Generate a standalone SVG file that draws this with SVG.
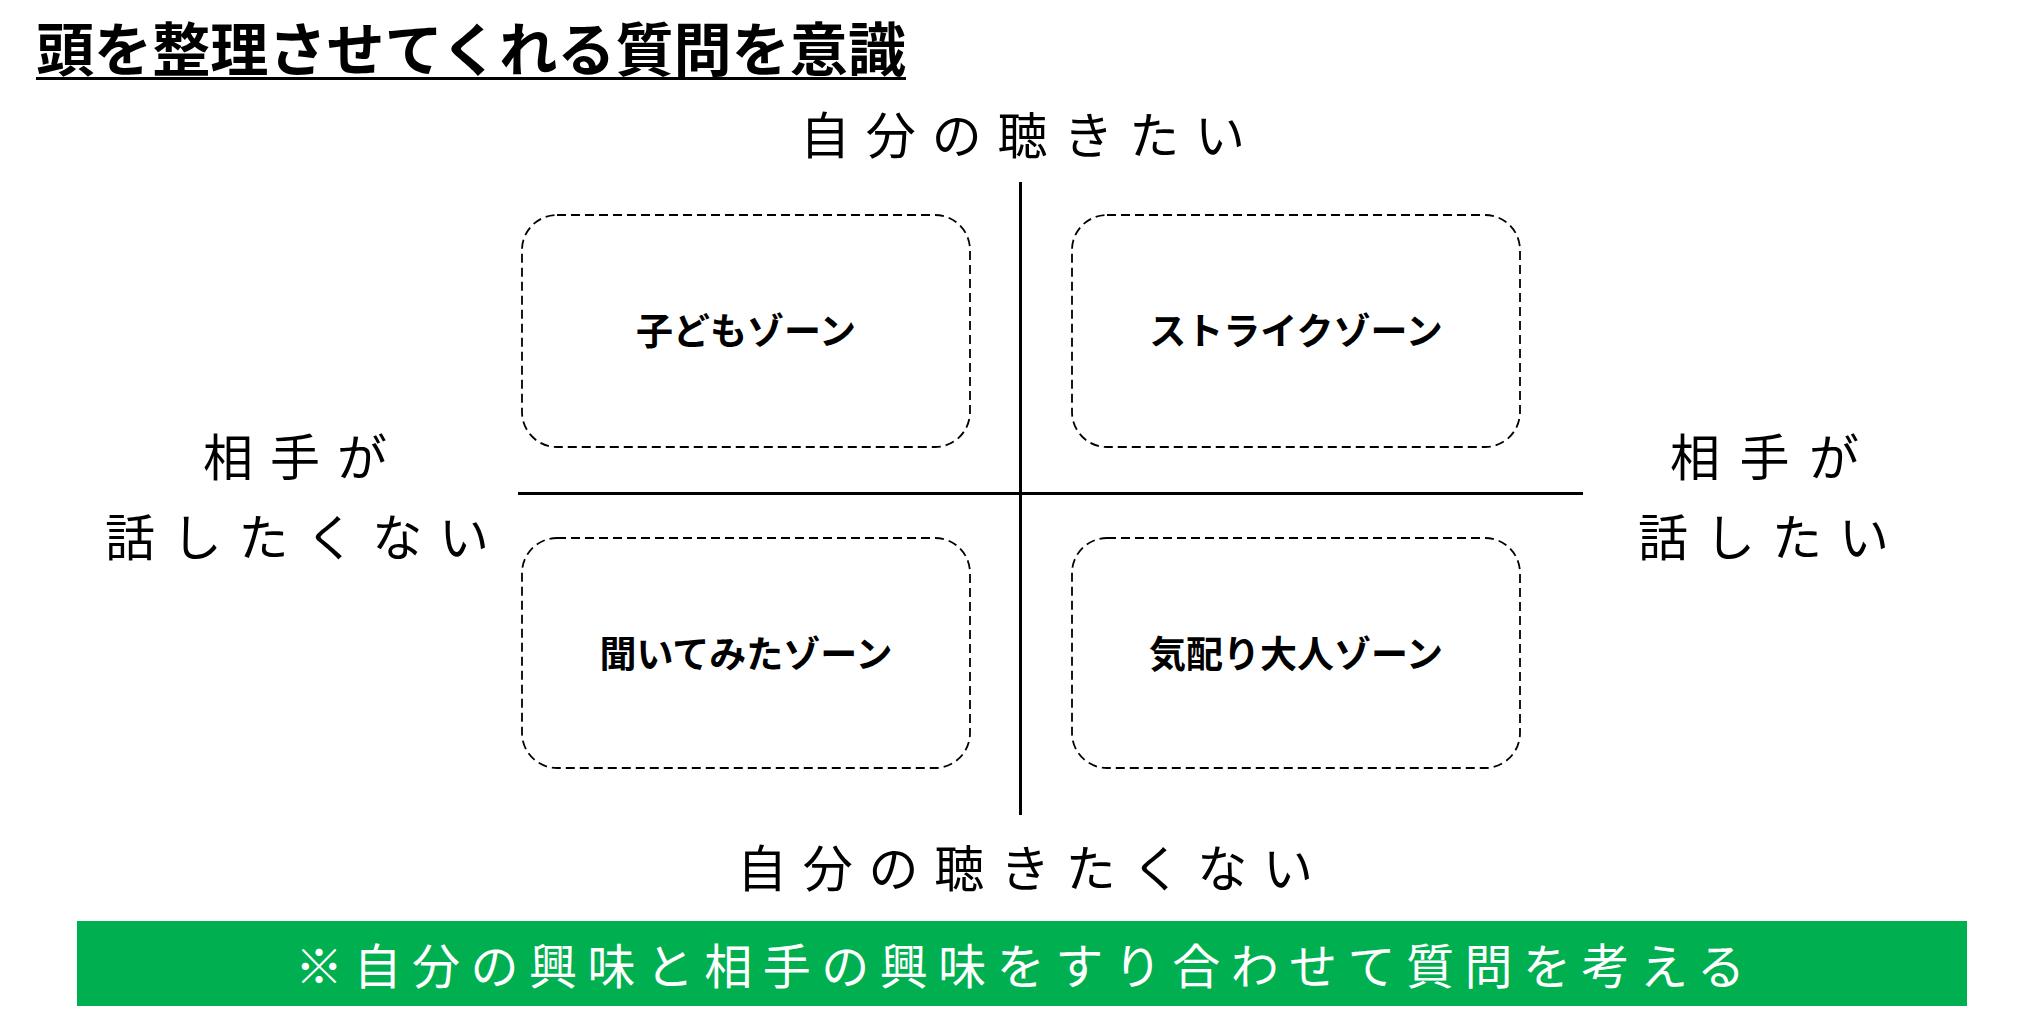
<svg xmlns="http://www.w3.org/2000/svg" width="2020" height="1034" viewBox="0 0 2020 1034">
<style>
.jp{font-family:"Noto Sans CJK JP","Noto Sans CJK SC",sans-serif;}
.title{font-size:58px;font-weight:700;fill:#000;}
.axis-label{font-size:50px;fill:#000;}
.zone{fill:#fff;stroke:#000;stroke-width:1.8;stroke-dasharray:9 5;}
.zone-text{font-size:37px;font-weight:700;fill:#000;text-anchor:middle;}
.axis{stroke:#000;stroke-width:3;}
.note{font-size:48px;fill:#fff;}
</style>
<rect x="0" y="0" width="2020" height="1034" fill="#fff"/>
<g id="title">
<text class="jp title" x="36" y="71" textLength="870" lengthAdjust="spacingAndGlyphs">頭を整理させてくれる質問を意識</text>
<line x1="36" y1="78.5" x2="906" y2="78.5" stroke="#000" stroke-width="3"/>
</g>
<g id="connectors">
<line class="axis" x1="1020.5" y1="182" x2="1020.5" y2="815"/>
<line class="axis" x1="518" y1="493.5" x2="1583" y2="493.5"/>
</g>
<g id="label-top">
<text class="jp axis-label" x="800" y="154" textLength="445" lengthAdjust="spacing">自分の聴きたい</text>
</g>
<g id="label-bottom">
<text class="jp axis-label" x="737" y="887" textLength="576" lengthAdjust="spacing">自分の聴きたくない</text>
</g>
<g id="label-left">
<text class="jp axis-label" x="203" y="476" textLength="184" lengthAdjust="spacing">相手が</text>
<text class="jp axis-label" x="105" y="556" textLength="384" lengthAdjust="spacing">話したくない</text>
</g>
<g id="label-right">
<text class="jp axis-label" x="1670" y="476" textLength="189" lengthAdjust="spacing">相手が</text>
<text class="jp axis-label" x="1638" y="556" textLength="251" lengthAdjust="spacing">話したい</text>
</g>
<g id="zone-child">
<rect class="zone" x="522" y="215" width="448" height="232" rx="35" ry="35"/>
<text class="jp zone-text" x="746" y="345">子どもゾーン</text>
</g>
<g id="zone-strike">
<rect class="zone" x="1072" y="215" width="448" height="232" rx="35" ry="35"/>
<text class="jp zone-text" x="1296" y="345">ストライクゾーン</text>
</g>
<g id="zone-curious">
<rect class="zone" x="522" y="538" width="448" height="230" rx="35" ry="35"/>
<text class="jp zone-text" x="746" y="668">聞いてみたゾーン</text>
</g>
<g id="zone-considerate">
<rect class="zone" x="1072" y="538" width="448" height="230" rx="35" ry="35"/>
<text class="jp zone-text" x="1296" y="668">気配り大人ゾーン</text>
</g>
<g id="note">
<rect x="77" y="921" width="1890" height="85" fill="#00B050"/>
<text class="jp note" x="295" y="984" textLength="1450" lengthAdjust="spacing">※自分の興味と相手の興味をすり合わせて質問を考える</text>
</g>
</svg>
